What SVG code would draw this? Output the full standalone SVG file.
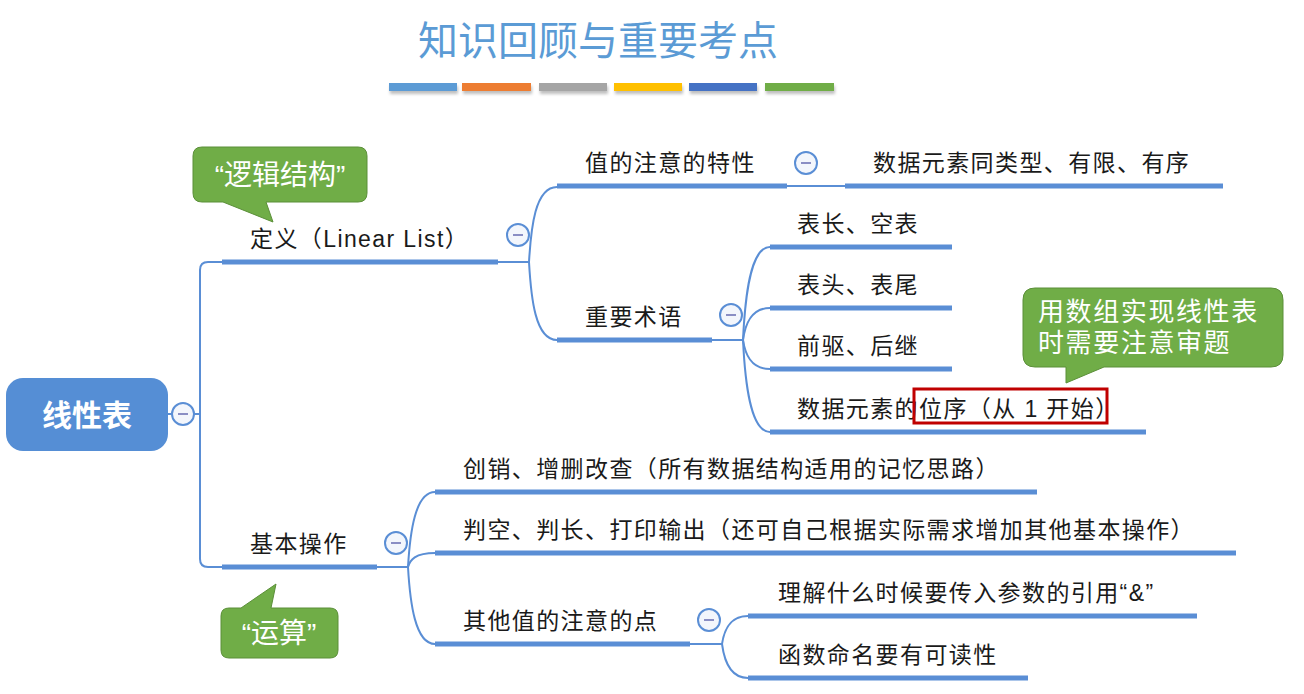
<svg xmlns="http://www.w3.org/2000/svg" width="1304" height="694" viewBox="0 0 1304 694">
<defs>
<filter id="sh" x="-10%" y="-50%" width="120%" height="250%">
<feDropShadow dx="1" dy="3" stdDeviation="1.5" flood-color="#000" flood-opacity="0.25"/>
</filter>
<style>
.t{font-family:"Liberation Sans","Noto Sans CJK SC",sans-serif;font-size:23px;fill:#1a1a1a;letter-spacing:1.4px}
.bar{stroke:#5A8ED5;stroke-width:5;fill:none}
.ln{stroke:#5A8ED5;stroke-width:2;fill:none}
.cc circle{fill:#F3F6FC;stroke:#5A8ED5;stroke-width:2}
.cc line{stroke:#8A8EC4;stroke-width:2}
.bub{fill:#70AD47;stroke:#5B8F39;stroke-width:1}
.bt{font-family:"Liberation Sans","Noto Sans CJK SC",sans-serif;fill:#fff}
</style>
</defs>
<rect width="1304" height="694" fill="#fff"/>

<g id="title">
<text x="598" y="55" text-anchor="middle" font-family="Noto Sans CJK SC, sans-serif" font-size="40" fill="#5B9BD5">知识回顾与重要考点</text>
<g filter="url(#sh)">
<rect x="389" y="83" width="68" height="8" fill="#5B9BD5"/>
<rect x="462" y="83" width="69" height="8" fill="#ED7D31"/>
<rect x="539" y="83" width="68" height="8" fill="#A5A5A5"/>
<rect x="614" y="83" width="68" height="8" fill="#FFC000"/>
<rect x="689" y="83" width="68" height="8" fill="#4472C4"/>
<rect x="765" y="83" width="69" height="8" fill="#70AD47"/>
</g>
</g>

<g id="connectors">
<path class="ln" d="M168,414 H172 M194,414 H200"/>
<path class="ln" d="M222,262 H208 Q200,262 200,270 V559 Q200,567 208,567 H222"/>
<path class="ln" d="M498,262 H529"/>
<path class="ln" d="M529,262 C531,228 535,187 557,187"/>
<path class="ln" d="M529,262 C531,297 535,340 557,340"/>
<path class="ln" d="M787,186 H845"/>
<path class="ln" d="M712,340 H743"/>
<path class="ln" d="M743,340 C745,298 750,247 770,247"/>
<path class="ln" d="M743,340 C745,326 750,308 770,308"/>
<path class="ln" d="M743,340 C745,353 750,369 770,369"/>
<path class="ln" d="M743,340 C745,381 750,432 770,432"/>
<path class="ln" d="M377,567 H408"/>
<path class="ln" d="M408,567 C410,533 415,492 435,492"/>
<path class="ln" d="M408,567 C410,560 415,553 435,553"/>
<path class="ln" d="M408,567 C410,602 415,644 435,644"/>
<path class="ln" d="M690,644 H722"/>
<path class="ln" d="M722,644 C724,631 729,616 748,616"/>
<path class="ln" d="M722,644 C724,659 729,678 748,678"/>
</g>

<g id="root">
<rect x="6" y="378" width="162" height="73" rx="17" fill="#558ED5"/>
<text x="87" y="426" text-anchor="middle" font-family="Noto Sans CJK SC, sans-serif" font-size="30" font-weight="bold" fill="#fff">线性表</text>
<g class="cc"><circle cx="183" cy="414" r="11"/><line x1="178" y1="414" x2="188" y2="414"/></g>
</g>

<g id="n-def">
<text class="t" x="250" y="247">定义（Linear List）</text>
<line class="bar" x1="222" y1="262" x2="498" y2="262"/>
<g class="cc"><circle cx="518" cy="235" r="11"/><line x1="513" y1="235" x2="523" y2="235"/></g>
</g>

<g id="n-prop">
<text class="t" x="585" y="171">值的注意的特性</text>
<line class="bar" x1="557" y1="186" x2="787" y2="186"/>
<g class="cc"><circle cx="806" cy="163" r="11"/><line x1="801" y1="163" x2="811" y2="163"/></g>
</g>

<g id="n-prop-val">
<text class="t" x="873" y="171">数据元素同类型、有限、有序</text>
<line class="bar" x1="845" y1="186" x2="1223" y2="186"/>
</g>

<g id="n-terms">
<text class="t" x="585" y="325">重要术语</text>
<line class="bar" x1="557" y1="340" x2="712" y2="340"/>
<g class="cc"><circle cx="731" cy="315" r="11"/><line x1="726" y1="315" x2="736" y2="315"/></g>
</g>

<g id="n-len">
<text class="t" x="797" y="232">表长、空表</text>
<line class="bar" x1="770" y1="247" x2="952" y2="247"/>
</g>
<g id="n-head">
<text class="t" x="797" y="293">表头、表尾</text>
<line class="bar" x1="770" y1="308" x2="952" y2="308"/>
</g>
<g id="n-prev">
<text class="t" x="797" y="354">前驱、后继</text>
<line class="bar" x1="770" y1="369" x2="952" y2="369"/>
</g>
<g id="n-pos">
<text class="t" x="797" y="417">数据元素的位序（从 1 开始）</text>
<line class="bar" x1="770" y1="432" x2="1146" y2="432"/>
<rect x="914" y="389" width="193" height="34" fill="none" stroke="#C00000" stroke-width="3"/>
</g>

<g id="n-ops">
<text class="t" x="250" y="552">基本操作</text>
<line class="bar" x1="222" y1="567" x2="377" y2="567"/>
<g class="cc"><circle cx="396" cy="543" r="11"/><line x1="391" y1="543" x2="401" y2="543"/></g>
</g>

<g id="n-crud">
<text class="t" x="463" y="477">创销、增删改查（所有数据结构适用的记忆思路）</text>
<line class="bar" x1="435" y1="492" x2="1037" y2="492"/>
</g>
<g id="n-empty">
<text class="t" x="463" y="538">判空、判长、打印输出（还可自己根据实际需求增加其他基本操作）</text>
<line class="bar" x1="435" y1="553" x2="1236" y2="553"/>
</g>
<g id="n-other">
<text class="t" x="463" y="629">其他值的注意的点</text>
<line class="bar" x1="435" y1="644" x2="690" y2="644"/>
<g class="cc"><circle cx="709" cy="620" r="11"/><line x1="704" y1="620" x2="714" y2="620"/></g>
</g>
<g id="n-ref">
<text class="t" x="778" y="601">理解什么时候要传入参数的引用“&amp;”</text>
<line class="bar" x1="748" y1="616" x2="1197" y2="616"/>
</g>
<g id="n-name">
<text class="t" x="778" y="663">函数命名要有可读性</text>
<line class="bar" x1="748" y1="678" x2="1028" y2="678"/>
</g>

<g id="callout-logic">
<path class="bub" d="M202,147 H358 Q367,147 367,156 V193 Q367,202 358,202 H266 L273,222 L223,202 H202 Q193,202 193,193 V156 Q193,147 202,147 Z"/>
<text class="bt" x="280" y="185" text-anchor="middle" font-size="28">“逻辑结构”</text>
</g>

<g id="callout-array">
<path class="bub" d="M1035,288 H1271 Q1283,288 1283,300 V355 Q1283,367 1271,367 H1104 L1066,383 V367 H1035 Q1023,367 1023,355 V300 Q1023,288 1035,288 Z"/>
<text class="bt" x="1038" y="321" font-size="26" letter-spacing="1.6">用数组实现线性表</text>
<text class="bt" x="1038" y="352" font-size="26" letter-spacing="1.6">时需要注意审题</text>
</g>

<g id="callout-op">
<path class="bub" d="M229,608 H241 L276,584 L271,608 H330 Q338,608 338,616 V650 Q338,658 330,658 H229 Q221,658 221,650 V616 Q221,608 229,608 Z"/>
<text class="bt" x="279" y="643" text-anchor="middle" font-size="28">“运算”</text>
</g>
</svg>
